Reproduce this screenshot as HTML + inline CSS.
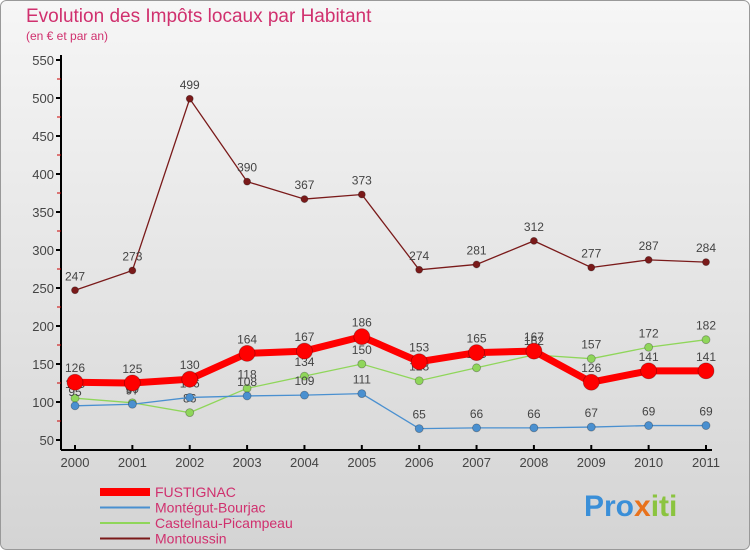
<!DOCTYPE html>
<html><head><meta charset="utf-8"><style>
body{margin:0;width:750px;height:550px;overflow:hidden;font-family:"Liberation Sans",sans-serif}
svg{display:block}
</style></head><body>
<svg id="c" width="750" height="550" xmlns="http://www.w3.org/2000/svg">
<defs><linearGradient id="bg" x1="0" y1="0" x2="0" y2="1"><stop offset="0" stop-color="#f6f6f6"/><stop offset="1" stop-color="#d4d4d4"/></linearGradient></defs>
<rect x="0.5" y="0.5" width="749" height="549" rx="6" fill="url(#bg)" stroke="#999"/>
<text x="26" y="22" font-size="19" fill="#d0306e">Evolution des Impôts locaux par Habitant</text>
<text x="26" y="40" font-size="12" fill="#d0306e">(en € et par an)</text>
<g id="axes"></g><g id="series"></g><g id="legend"></g>
<text x="584" y="516" font-size="30" font-weight="bold" fill="#3a8fd8">Pro<tspan fill="#e8721c">x</tspan><tspan fill="#8bc43f">iti</tspan></text>
</svg>
<script>
const years=["2000","2001","2002","2003","2004","2005","2006","2007","2008","2009","2010","2011"];
const yTicks=[50,100,150,200,250,300,350,400,450,500,550];
const fustignac=[126,125,130,164,167,186,153,165,167,126,141,141];
const montegut=[95,97,106,108,109,111,65,66,66,67,69,69];
const castelnau=[105,99,86,118,134,150,128,145,162,157,172,182];
const montoussin=[247,273,499,390,367,373,274,281,312,277,287,284];
const NS="http://www.w3.org/2000/svg";
const X=i=>75+i*(706-75)/11, Y=v=>440-(v-50)*0.76;
function mk(t,a,p){const e=document.createElementNS(NS,t);for(const k in a)e.setAttribute(k,a[k]);p.appendChild(e);return e;}
const ax=document.getElementById('axes');
let e=mk('line',{x1:61,y1:55,x2:61,y2:450,stroke:'#000','stroke-width':2},ax);


e=mk('line',{x1:61,y1:450,x2:712,y2:450,stroke:'#000','stroke-width':2},ax);


yTicks.forEach(v=>{
 mk('line',{x1:56,y1:Y(v),x2:61,y2:Y(v),stroke:'#000','stroke-width':2},ax);
 if(v<550)mk('line',{x1:57,y1:Y(v+25),x2:61,y2:Y(v+25),stroke:'#c00','stroke-width':1},ax);
 const t=mk('text',{x:54,y:Y(v)+5,'text-anchor':'end','font-size':13,fill:'#444'},ax);t.textContent=v;
 
 
});
years.forEach((y,i)=>{
 mk('line',{x1:X(i),y1:445,x2:X(i),y2:450,stroke:'#000','stroke-width':2},ax);
 const t=mk('text',{x:X(i),y:467,'text-anchor':'middle','font-size':13,fill:'#444'},ax);t.textContent=y;
 
 
});
const sg=document.getElementById('series');
const series=[
 {n:'Montoussin',d:montoussin,c:'#7a1a1a',w:1.3,r:3.5},
 {n:'Castelnau-Picampeau',d:castelnau,c:'#8fd65a',w:1.3,r:4},
 {n:'Montégut-Bourjac',d:montegut,c:'#4a90d0',w:1.3,r:4},
 {n:'FUSTIGNAC',d:fustignac,c:'#ff0000',w:7,r:8}];
series.forEach(s=>{
 const g=mk('g',{},sg);
 
 
 mk('polyline',{points:s.d.map((v,i)=>X(i)+','+Y(v)).join(' '),fill:'none',stroke:s.c,'stroke-width':s.w},g);
 s.d.forEach((v,i)=>{
  const c=mk('circle',{cx:X(i),cy:Y(v),r:s.r,fill:s.c,stroke:'rgba(0,0,0,0.3)','stroke-width':0.8},g);
  
  
  const t=mk('text',{x:X(i),y:Y(v)-10,'text-anchor':'middle','font-size':12,fill:'#444'},g);t.textContent=v;
  
  
 });
});
const lg=document.getElementById('legend');
[['FUSTIGNAC','#ff0000',8],['Montégut-Bourjac','#4a90d0',2],['Castelnau-Picampeau','#8fd65a',2],['Montoussin','#7a1a1a',2]].forEach((l,i)=>{
 const y=492+i*15.5;
 const g=mk('g',{},lg);
 
 
 mk('line',{x1:100,y1:y,x2:150,y2:y,stroke:l[1],'stroke-width':l[2]},g);
 const t=mk('text',{x:155,y:y+5,'font-size':14,fill:'#d0306e'},g);t.textContent=l[0];
});
</script>
</body></html>
